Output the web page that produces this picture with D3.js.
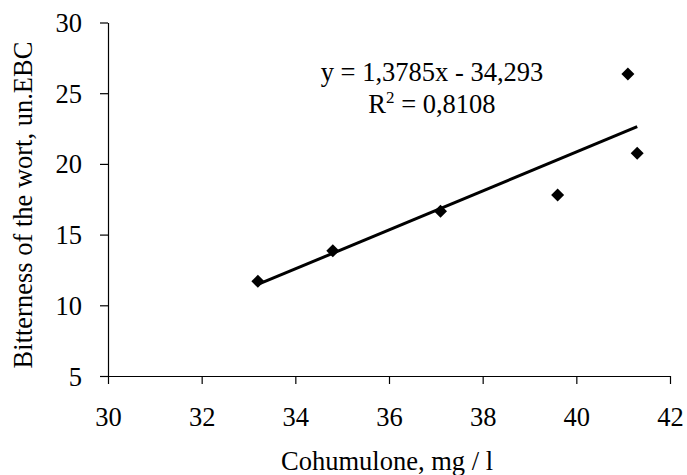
<!DOCTYPE html>
<html><head><meta charset="utf-8">
<script src="https://cdn.jsdelivr.net/npm/d3@7"></script>
<style>body{margin:0;background:#fff}svg{display:block}text{font-family:"Liberation Serif","Times New Roman",serif;fill:#000}</style>
</head><body>
<svg id="c" width="687" height="475"></svg>
<script>
const xValues = [33.2, 34.8, 37.1, 39.6, 41.1, 41.3];
const yValues = [11.7, 13.85, 16.65, 17.8, 26.35, 20.75];
const xTicks = [30, 32, 34, 36, 38, 40, 42];
const yTicks = [5, 10, 15, 20, 25, 30];
const slope = 1.3785, intercept = -34.293;
const eqText = "y = 1,3785x - 34,293";
const r2Text = "0,8108";
const xTitle = "Cohumulone, mg / l";
const yTitle = "Bitterness of the wort, un.EBC";

const FS = 26.5;
const svg = d3.select("#c");
const x = d3.scaleLinear().domain([30, 42]).range([108, 670]);
const y = d3.scaleLinear().domain([5, 30]).range([376, 22.5]);

const xAxis = svg.append("g").attr("transform", "translate(0,376)")
  .call(d3.axisBottom(x).tickValues(xTicks).tickSize(8).tickSizeOuter(0).tickPadding(14).tickFormat(d3.format("d")));
const yAxis = svg.append("g").attr("transform", "translate(108,0)")
  .call(d3.axisLeft(y).tickValues(yTicks).tickSize(8).tickSizeOuter(0).tickPadding(18).tickFormat(d3.format("d")));
[xAxis, yAxis].forEach(a => {
  a.selectAll("path,line").attr("stroke", "#000").attr("stroke-width", 1.2);
  a.selectAll("text").attr("font-size", FS).attr("fill", "#000");
});
xAxis.selectAll("text").attr("dy", null).attr("y", 426 - 376);
yAxis.selectAll("text").attr("dy", "0.34em");

// trend line
const x0 = d3.min(xValues), x1 = d3.max(xValues);
svg.append("line")
  .attr("x1", x(x0)).attr("y1", y(slope * x0 + intercept))
  .attr("x2", x(x1)).attr("y2", y(slope * x1 + intercept))
  .attr("stroke", "#000").attr("stroke-width", 3);

// markers
const r = 6.5;
svg.append("g").selectAll("path").data(xValues.map((v, i) => [v, yValues[i]])).join("path")
  .attr("d", d => { const cx = x(d[0]), cy = y(d[1]); return `M${cx},${cy - r}L${cx + r},${cy}L${cx},${cy + r}L${cx - r},${cy}Z`; })
  .attr("fill", "#000");

// equation
svg.append("text").attr("x", 432).attr("y", 81).attr("text-anchor", "middle").attr("font-size", FS).text(eqText);
const t2 = svg.append("text").attr("x", 432).attr("y", 113).attr("text-anchor", "middle").attr("font-size", FS);
t2.append("tspan").text("R");
t2.append("tspan").attr("font-size", 17).attr("dy", -10).text("2");
t2.append("tspan").attr("dy", 10).text(" = " + r2Text);

// axis titles
svg.append("text").attr("x", 387).attr("y", 470).attr("text-anchor", "middle").attr("font-size", FS).text(xTitle);
svg.append("text").attr("transform", "translate(32,205) rotate(-90)").attr("text-anchor", "middle").attr("font-size", FS).text(yTitle);
</script>
</body></html>
